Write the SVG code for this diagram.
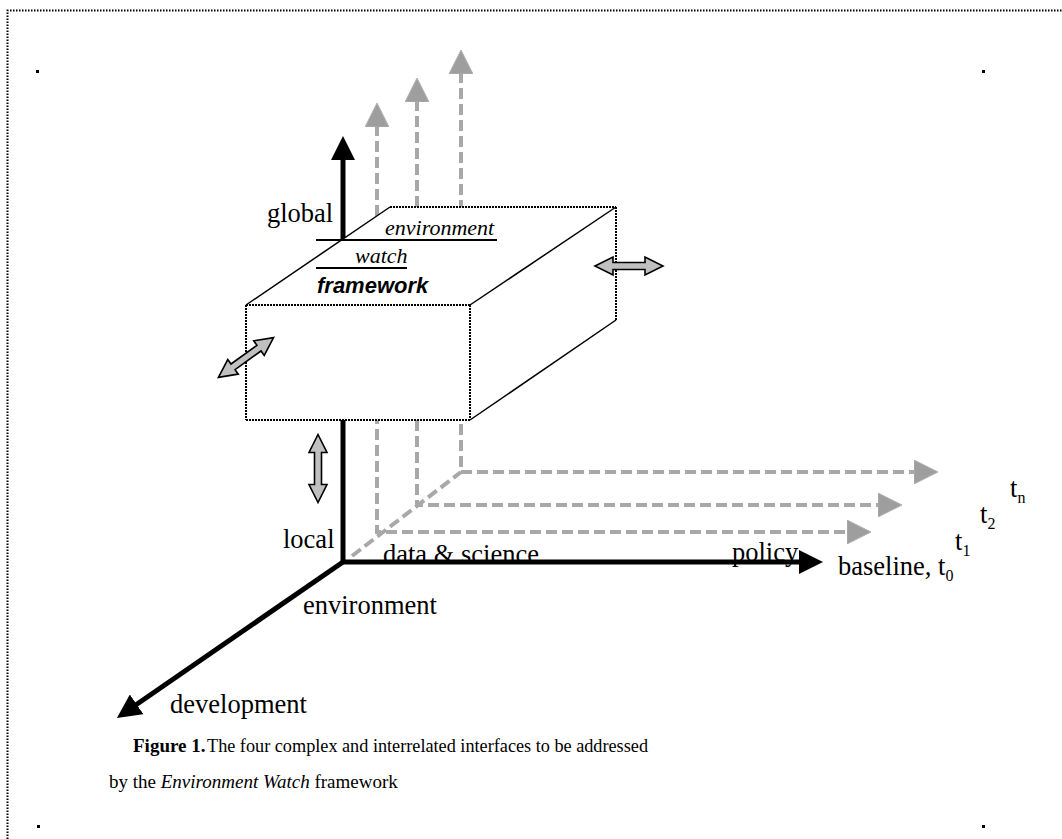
<svg xmlns="http://www.w3.org/2000/svg" width="1062" height="839" viewBox="0 0 1062 839">
<style>
.serif{font-family:"Liberation Serif","Times New Roman",serif;fill:#000}
.lbl{font-size:26.5px}
.sub{font-size:16px}
.cap{font-size:19px}
.gray{fill:none;stroke:#a8a8a8;stroke-width:4;stroke-dasharray:11 5}
.axis{fill:none;stroke:#000;stroke-width:5}
.dot{stroke:#000;stroke-width:2;stroke-dasharray:2 1;fill:none}
.solid{stroke:#000;stroke-width:1.5;fill:none}
.face{fill:#fff;stroke:none}
.dbl{fill:#c0c0c0;stroke:#000;stroke-width:1.6;stroke-linejoin:miter}
.border{stroke:#000;stroke-width:2;stroke-dasharray:1.5 1.5;fill:none}
</style>
<defs>
<marker id="blackHead" viewBox="0 0 24 24" markerWidth="24" markerHeight="24" markerUnits="userSpaceOnUse" refX="2" refY="12" orient="auto-start-reverse">
<path d="M0,0 L24,12 L0,24 Z" fill="#000"/>
</marker>
<marker id="grayHead" viewBox="0 0 24 24" markerWidth="24" markerHeight="24" markerUnits="userSpaceOnUse" refX="2" refY="12" orient="auto-start-reverse">
<path d="M0,0 L24,12 L0,24 Z" fill="#9e9e9e" stroke="#b0b0b0" stroke-width="1"/>
</marker>
<path id="dblArrow" class="dbl" d="M-34,0 L-16,-9 L-16,-3.5 L16,-3.5 L16,-9 L34,0 L16,9 L16,3.5 L-16,3.5 L-16,9 Z"/>
</defs>
<rect width="1062" height="839" fill="#fff"/>
<g id="frame">
<path class="border" d="M7.5,839 L7.5,10.5 L1062,10.5"/>
<rect x="36" y="70" width="3" height="3" fill="#000"/>
<rect x="982" y="70" width="3" height="3" fill="#000"/>
<rect x="37" y="825" width="3" height="3" fill="#000"/>
<rect x="982" y="825" width="3" height="3" fill="#000"/>
</g>
<g id="connectors">
<path class="gray" d="M377,125 L377,532 L849,532" marker-start="url(#grayHead)" marker-end="url(#grayHead)"/>
<path class="gray" d="M417,100 L417,505 L880,505" marker-start="url(#grayHead)" marker-end="url(#grayHead)"/>
<path class="gray" d="M461,72 L461,472 L916,472" marker-start="url(#grayHead)" marker-end="url(#grayHead)"/>
<path class="gray" d="M352,556 L461,472"/>
</g>
<g id="labels" class="serif lbl">
<text x="267" y="222">global</text>
<text x="283" y="548">local</text>
<text x="383" y="563">data &amp; science</text>
<text x="732" y="561">policy</text>
<text x="303" y="614">environment</text>
<text x="170" y="713">development</text>
<text x="838" y="575">baseline, t<tspan class="sub" dy="6">0</tspan></text>
<text x="955" y="550">t<tspan class="sub" dy="6">1</tspan></text>
<text x="980" y="523">t<tspan class="sub" dy="6">2</tspan></text>
<text x="1010" y="497">t<tspan class="sub" dy="6">n</tspan></text>
</g>
<g id="axes">
<path class="axis" d="M343,158 L343,562 L801,562" marker-start="url(#blackHead)" marker-end="url(#blackHead)"/>
<path class="axis" d="M343,562 L135,705.5" marker-end="url(#blackHead)"/>
</g>
<g id="box">
<polygon class="face" points="390,207 616,207 470,305 246,305"/>
<polygon class="face" points="470,305 616,207 616,320 470,420"/>
<rect class="face" x="246" y="305" width="224" height="115"/>
<line class="solid" x1="390" y1="207" x2="246" y2="305"/>
<line class="solid" x1="616" y1="207" x2="470" y2="305"/>
<line class="solid" x1="616" y1="320" x2="470" y2="420"/>
<line class="dot" x1="390" y1="207" x2="616" y2="207"/>
<line class="dot" x1="246" y1="305" x2="470" y2="305"/>
<line class="dot" x1="246" y1="305" x2="246" y2="420"/>
<line class="dot" x1="246" y1="420" x2="470" y2="420"/>
<line class="dot" x1="470" y1="305" x2="470" y2="420"/>
<line class="dot" x1="616" y1="207" x2="616" y2="320"/>
</g>
<g id="boxText">
<text class="serif" x="385" y="235" font-size="22" font-style="italic">environment</text>
<line x1="316" y1="240" x2="497" y2="240" stroke="#000" stroke-width="2"/>
<text class="serif" x="355" y="263" font-size="22" font-style="italic">watch</text>
<line x1="316" y1="268" x2="407" y2="268" stroke="#000" stroke-width="2"/>
<text x="317" y="293" font-family="'Liberation Sans',Arial,sans-serif" font-size="22" font-weight="bold" font-style="italic">framework</text>
</g>
<g id="interfaceArrows">
<use href="#dblArrow" transform="translate(629,266)"/>
<use href="#dblArrow" transform="translate(246,357.5) rotate(-35.8)"/>
<use href="#dblArrow" transform="translate(318,468.5) rotate(90)"/>
</g>
<g id="caption" class="serif cap">
<text x="133" y="752"><tspan font-weight="bold">Figure 1.</tspan><tspan x="207" textLength="441" lengthAdjust="spacingAndGlyphs">The four complex and interrelated interfaces to be addressed</tspan></text>
<text x="109" y="788">by the <tspan font-style="italic">Environment Watch</tspan>  framework</text>
</g>
</svg>
